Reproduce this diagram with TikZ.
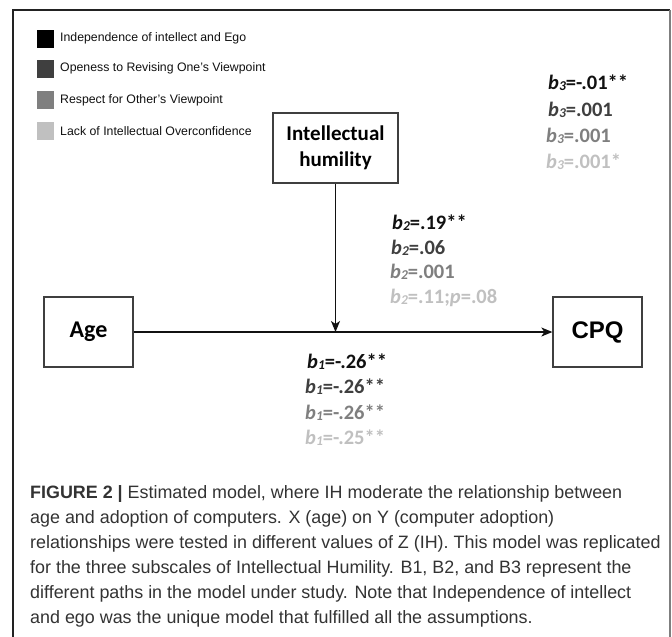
\documentclass[tikz,border=0pt]{standalone}
\usepackage{fontspec}
\setmainfont{Liberation Sans}
\newfontfamily\calib{Carlito}
\usetikzlibrary{arrows.meta}
\definecolor{cA}{HTML}{111111}
\definecolor{cB}{HTML}{3F3F3F}
\definecolor{cC}{HTML}{7F7F7F}
\definecolor{cD}{HTML}{C0C0C0}
\definecolor{capcol}{HTML}{333333}
\definecolor{framecol}{HTML}{222222}
\newcommand{\bsub}[2]{\textit{b}{\fontsize{13.5}{13.5}\selectfont\raisebox{-1.5pt}{\textit{#1}}}#2}
\begin{document}
\begin{tikzpicture}[x=1pt,y=-1pt,
  varbox/.style={draw=cB,line width=1.3pt,inner sep=0pt,align=center},
  legsq/.style={inner sep=0pt,minimum width=17pt,minimum height=18pt},
  legtxt/.style={anchor=west,inner sep=0pt,text=cA,font=\fontsize{12.3}{14}\selectfont},
  coef/.style={anchor=base west,inner sep=0pt,font=\calib\bfseries\fontsize{20.5}{24}\selectfont},
  capline/.style={anchor=base west,inner sep=0pt,text=capcol,font=\fontsize{17.9}{20}\selectfont},
  arr/.style={draw=cA,line width=1.1pt,-{Stealth[length=11pt,width=9pt,inset=3pt]}}]
\useasboundingbox (0,0) rectangle (672,637);
\fill[white] (0,0) rectangle (672,637);
% frame
\draw[framecol,line width=1.4pt] (13,637) -- (13,10) -- (670,10);
\draw[cC,line width=1.4pt] (670,10) -- (670,637);
% legend
\node[legsq,fill=black] (s1) at (45.5,38.5) {};
\node[legsq,fill=cB] (s2) at (45,68.5) {};
\node[legsq,fill=cC] (s3) at (45,100) {};
\node[legsq,fill=cD] (s4) at (45,131) {};
\node[legtxt] (l1) at (60,38.5) {Independence of intellect and Ego};
\node[legtxt] (l2) at (60,68.5) {Openess to Revising One's Viewpoint};
\node[legtxt] (l3) at (60,100) {Respect for Other's Viewpoint};
\node[legtxt] (l4) at (60,131) {Lack of Intellectual Overconfidence};
% variable boxes
\node[varbox,minimum width=125pt,minimum height=70pt,font=\calib\bfseries\fontsize{21}{26}\selectfont] (ih) at (335.5,148) {Intellectual\\humility};
\node[varbox,minimum width=89pt,minimum height=70pt,font=\calib\bfseries\fontsize{24}{28}\selectfont] (age) at (88.5,332) {Age};
\node[varbox,minimum width=89pt,minimum height=70pt,font=\bfseries\fontsize{24}{28}\selectfont] (cpq) at (597.5,332) {CPQ};
\coordinate (j) at (ih.south |- age.east);
\draw[arr] (age) -- (cpq);
\draw[arr] (ih) -- (j);
% b3
\node[coef,text=cA] (b31) at (548,89) {\bsub{3}{=-.01**}};
\node[coef,text=cB] (b32) at (548,116) {\bsub{3}{=.001}};
\node[coef,text=cC] (b33) at (546,142) {\bsub{3}{=.001}};
\node[coef,text=cD] (b34) at (546,168) {\bsub{3}{=.001*}};
% b2
\node[coef,text=cA] (b21) at (392,229) {\bsub{2}{=.19**}};
\node[coef,text=cB] (b22) at (391,254) {\bsub{2}{=.06}};
\node[coef,text=cC] (b23) at (390,278) {\bsub{2}{=.001}};
\node[coef,text=cD] (b24) at (390,303) {\bsub{2}{=.11;\textit{p}=.08}};
% b1
\node[coef,text=cA] (b11) at (307,368) {\bsub{1}{=-.26**}};
\node[coef,text=cB] (b12) at (305,393) {\bsub{1}{=-.26**}};
\node[coef,text=cC] (b13) at (305,419) {\bsub{1}{=-.26**}};
\node[coef,text=cD] (b14) at (305,444) {\bsub{1}{=-.25**}};
% caption
\node[capline] (c1) at (30,498) {\textbf{FIGURE 2 |} Estimated model, where IH moderate the relationship between};
\node[capline] (c2) at (30,523) {age and adoption of computers. X (age) on Y (computer adoption)};
\node[capline] (c3) at (30,548) {relationships were tested in different values of Z (IH). This model was replicated};
\node[capline] (c4) at (30,573) {for the three subscales of Intellectual Humility. B1, B2, and B3 represent the};
\node[capline] (c5) at (30,598) {different paths in the model under study. Note that Independence of intellect};
\node[capline] (c6) at (30,623) {and ego was the unique model that fulfilled all the assumptions.};
\end{tikzpicture}
\end{document}
